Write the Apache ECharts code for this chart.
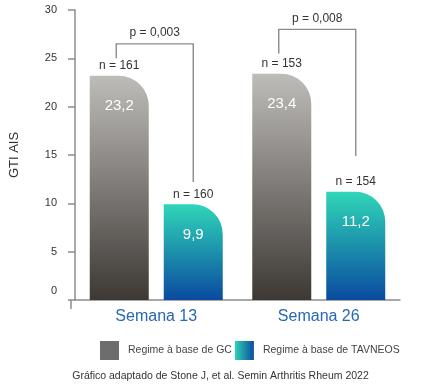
<!DOCTYPE html>
<html>
<head>
<meta charset="utf-8">
<script src="https://cdn.jsdelivr.net/npm/echarts@6/dist/echarts.min.js"></script>
<style>
html,body{margin:0;padding:0;background:#fff;}
#chart{width:441px;height:385px;}
</style>
</head>
<body>
<div id="chart"></div>
<script>
// ---- data ----
const categories = ['Semana 13', 'Semana 26'];
const seriesNames = ['Regime à base de GC', 'Regime à base de TAVNEOS'];
const gcValues = [23.2, 23.4];
const tavneosValues = [9.9, 11.2];
const gcN = [161, 153];
const tavneosN = [160, 154];
const pValues = ['0,003', '0,008'];
const bracketTop = [26.5, 28.0];
const bracketLeftEnd = [25.0, 25.5];
const bracketRightEnd = [12.2, 14.9];
const yTicks = [0, 5, 10, 15, 20, 25, 30];
const footnote = 'Gráfico adaptado de Stone J, et al. Semin Arthritis Rheum 2022';

// ---- style constants ----
const FONT = 'Liberation Sans, Arial, Helvetica, sans-serif';
const BAR_W = 59;
const BAR_GAP = 15;
const GRID = {left: 71, right: 41, top: 10, bottom: 85};

const fmt = v => v.toFixed(1).replace('.', ',');

const chart = echarts.init(document.getElementById('chart'));

const gcGrad = new echarts.graphic.LinearGradient(0, 0, 0, 1, [
  {offset: 0, color: '#bebcb9'},
  {offset: 1, color: '#3d3834'}
]);
const tavGrad = new echarts.graphic.LinearGradient(0, 0, 0, 1, [
  {offset: 0, color: '#2fd6b8'},
  {offset: 1, color: '#0a4a9f'}
]);
const tavLegendGrad = new echarts.graphic.LinearGradient(0, 0, 1, 0, [
  {offset: 0, color: '#2fd3b6'},
  {offset: 1, color: '#0b4ca0'}
]);

const barLabel = {
  show: true,
  position: 'insideTop',
  distance: 23,
  color: '#ffffff',
  fontSize: 15,
  fontFamily: FONT,
  formatter: p => fmt(p.value)
};

const annotData = categories.map((c, i) => [i, gcValues[i], tavneosValues[i], bracketTop[i], bracketLeftEnd[i], bracketRightEnd[i]]);

function renderAnnot(params, api) {
  const i = params.dataIndex;
  const cx = api.coord([api.value(0), 0])[0];
  const half = (BAR_W + BAR_GAP) / 2;
  const xGc = cx - half;
  const xTav = cx + half;
  const yGc = api.coord([api.value(0), api.value(1)])[1];
  const yTav = api.coord([api.value(0), api.value(2)])[1];
  const yT = api.coord([api.value(0), api.value(3)])[1];
  const yL = api.coord([api.value(0), api.value(4)])[1];
  const yR = api.coord([api.value(0), api.value(5)])[1];
  const xl = xGc - 3;
  const textStyle = (text, x, y, size) => ({
    type: 'text',
    style: {text: text, x: x, y: y, align: 'center', verticalAlign: 'middle',
            fill: '#333', fontSize: size, fontFamily: FONT}
  });
  return {
    type: 'group',
    children: [
      {type: 'polyline', shape: {points: [[xl, yL], [xl, yT], [xTav, yT], [xTav, yR]]},
       style: {stroke: '#8a8a8a', lineWidth: 1.4, fill: null}},
      textStyle('p = ' + pValues[i], (xl + xTav) / 2, yT - 11, 12),
      textStyle('n = ' + gcN[i], xGc, yGc - 10, 12),
      textStyle('n = ' + tavneosN[i], xTav, yTav - 10, 12)
    ]
  };
}

const option = {
  animation: false,
  backgroundColor: '#ffffff',
  textStyle: {fontFamily: FONT},
  grid: GRID,
  title: {
    text: footnote,
    left: 'center',
    top: 371,
    padding: 0,
    textStyle: {fontSize: 10.5, fontWeight: 'normal', color: '#333', fontFamily: FONT}
  },
  legend: {
    left: 100,
    top: 341,
    padding: 0,
    itemWidth: 19,
    itemHeight: 19,
    itemGap: 3,
    icon: 'rect',
    textStyle: {fontSize: 10.5, color: '#444', fontFamily: FONT, padding: [0, 0, 0, 4]},
    data: [
      {name: seriesNames[0], itemStyle: {color: '#6e6d6b'}},
      {name: seriesNames[1], itemStyle: {color: tavLegendGrad}}
    ]
  },
  xAxis: {
    type: 'category',
    data: categories,
    axisLine: {show: true, lineStyle: {color: '#8c8c8c', width: 1.5}},
    axisTick: {show: false},
    axisLabel: {color: '#2767b6', fontSize: 16, margin: 9, fontFamily: FONT}
  },
  yAxis: {
    type: 'value',
    min: yTicks[0],
    max: yTicks[yTicks.length - 1],
    interval: yTicks[1] - yTicks[0],
    name: 'GTI AIS',
    nameLocation: 'middle',
    nameGap: 54,
    nameTextStyle: {fontSize: 13, color: '#333', fontFamily: FONT},
    axisLine: {show: true, lineStyle: {color: '#8c8c8c', width: 1.5}},
    axisTick: {show: true, length: 7, lineStyle: {color: '#8c8c8c', width: 1.5}},
    splitLine: {show: false},
    axisLabel: {
      color: '#333', fontSize: 11, margin: 18, fontFamily: FONT,
      formatter: v => v === 0 ? '{z|0}' : String(v),
      rich: {z: {fontSize: 11, color: '#333', fontFamily: FONT, padding: [0, 0, 18, 0]}}
    }
  },
  graphic: [{
    type: 'line',
    shape: {x1: GRID.left, y1: 385 - GRID.bottom, x2: GRID.left, y2: 385 - GRID.bottom + 9},
    style: {stroke: '#8c8c8c', lineWidth: 1.5}
  }],
  series: [
    {
      name: seriesNames[0],
      type: 'bar',
      barWidth: BAR_W,
      barGap: (BAR_GAP / BAR_W * 100).toFixed(1) + '%',
      data: gcValues,
      itemStyle: {color: gcGrad, borderRadius: [0, 30, 0, 0]},
      label: barLabel
    },
    {
      name: seriesNames[1],
      type: 'bar',
      barWidth: BAR_W,
      data: tavneosValues,
      itemStyle: {color: tavGrad, borderRadius: [0, 30, 0, 0]},
      label: barLabel
    },
    {
      type: 'custom',
      silent: true,
      renderItem: renderAnnot,
      data: annotData,
      encode: {x: 0, y: 1},
      z: 5
    }
  ]
};

chart.setOption(option);
</script>
</body>
</html>
